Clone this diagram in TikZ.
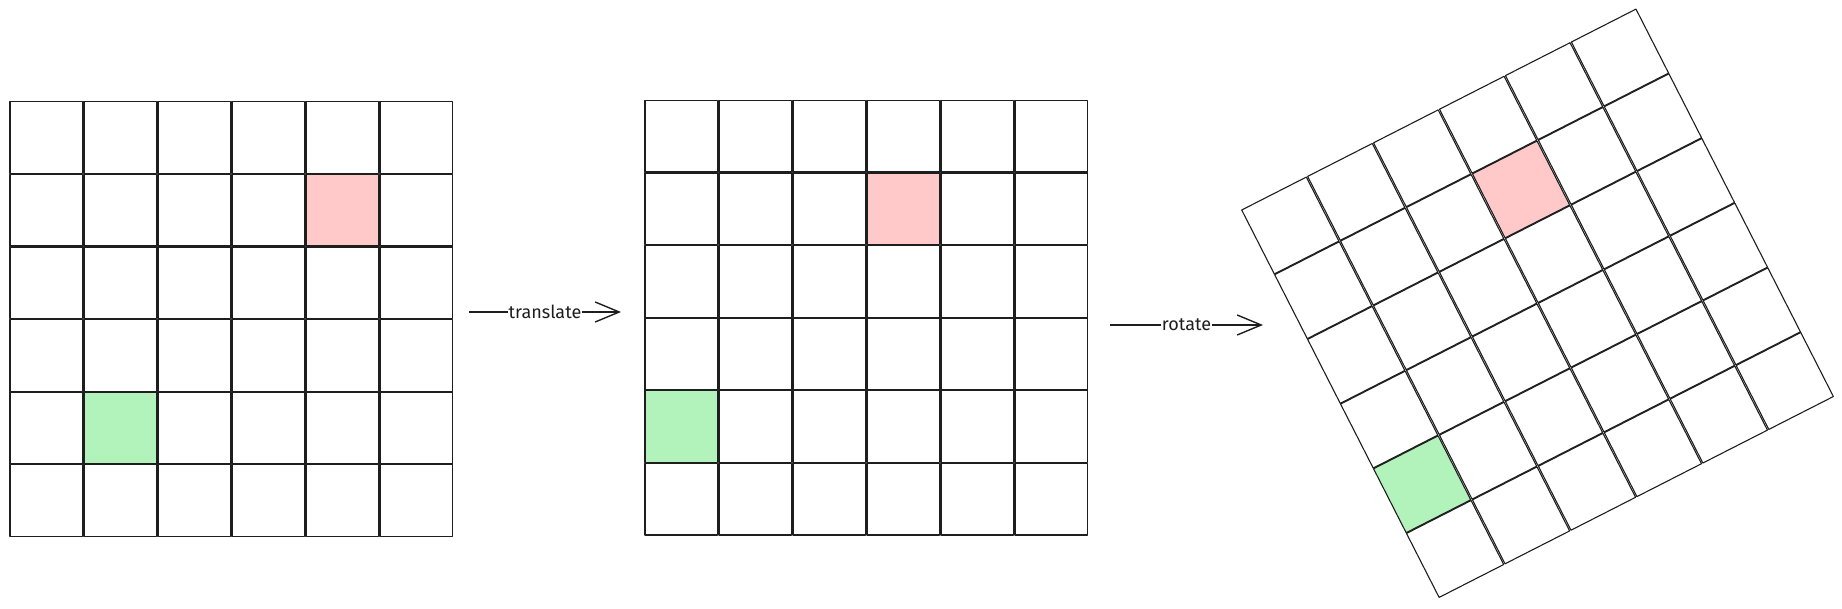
\documentclass[tikz,border=0pt]{standalone}
\usepackage{fontspec}
\setmainfont{Fira Sans}
\usetikzlibrary{arrows.meta}
\definecolor{ink}{HTML}{1E1E1E}
\definecolor{redfill}{HTML}{FFC9C9}
\definecolor{greenfill}{HTML}{B2F2BB}
\newcommand\gridsix[4]{%
  \fill[redfill] (#1*74,#2*72.6) rectangle ++(72.5,71.8);
  \fill[greenfill] (#3*74,#4*72.6) rectangle ++(72.5,71.8);
  \foreach \i in {0,...,5}{\foreach \j in {0,...,5}{%
    \draw[cellbox] (\i*74,\j*72.6) rectangle ++(72.5,71.8);}}%
}
\begin{document}
\begin{tikzpicture}[x=1pt,y=-1pt,
  cellbox/.style={draw=ink, line width=1.3pt, line join=round},
  arrowline/.style={draw=ink, line width=1.4pt, -{Straight Barb[length=24pt,width=20pt,line width=1.4pt]}},
  lbl/.style={fill=white, inner sep=1pt, text=ink, font=\fontsize{18}{21}\selectfont}]
\useasboundingbox (0,0) rectangle (1842,609);
\begin{scope}[shift={(10,101.7)}]
  \gridsix{4}{1}{1}{4}
\end{scope}
\begin{scope}[shift={(645,100.3)}]
  \gridsix{3}{1}{0}{4}
\end{scope}
\begin{scope}[shift={(1241.7,210)},rotate=27,cellbox/.append style={line width=1.1pt}]
  \gridsix{3}{1}{0}{4}
\end{scope}
\coordinate (tA) at (469,312);
\coordinate (tB) at (621,312);
\coordinate (rA) at (1110,325);
\coordinate (rB) at (1263,325);
\draw[arrowline] (tA) -- (tB) node[midway, lbl] (tlabel) {translate};
\draw[arrowline] (rA) -- (rB) node[midway, lbl] (rlabel) {rotate};
\end{tikzpicture}
\end{document}
